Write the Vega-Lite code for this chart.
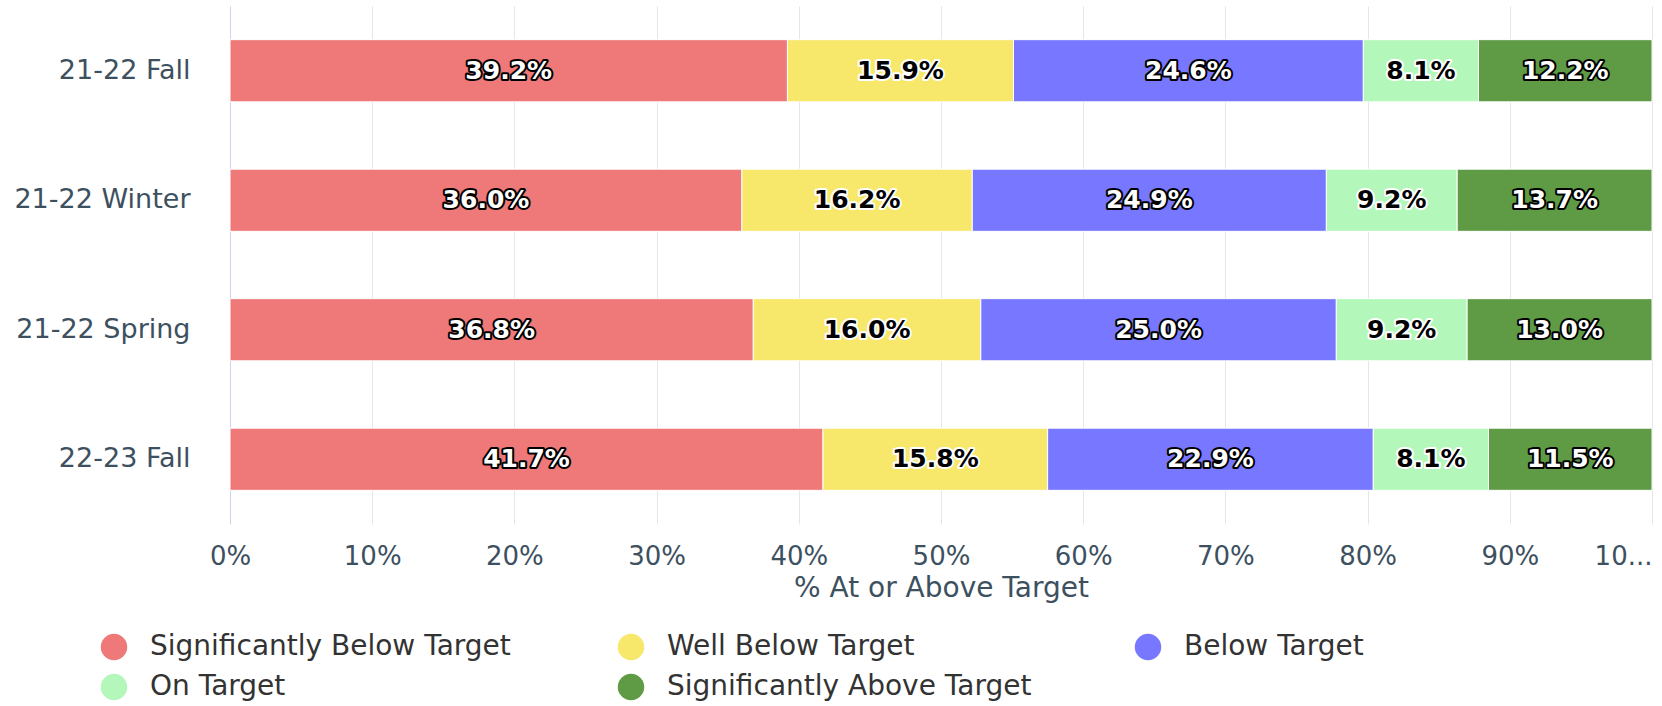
{
  "$schema": "https://vega.github.io/schema/vega-lite/v6.json",
  "width": 1422,
  "height": 518,
  "autosize": {"type": "none"},
  "padding": {"left": 230, "top": 6, "right": 10, "bottom": 182},
  "config": {"view": {"stroke": null}, "font": "DejaVu Sans"},
  "data": {
    "values": [
      {"term": "21-22 Fall", "level": "Significantly Below Target", "rank": 1, "value": 0.392},
      {"term": "21-22 Fall", "level": "Well Below Target", "rank": 2, "value": 0.159},
      {"term": "21-22 Fall", "level": "Below Target", "rank": 3, "value": 0.246},
      {"term": "21-22 Fall", "level": "On Target", "rank": 4, "value": 0.081},
      {"term": "21-22 Fall", "level": "Significantly Above Target", "rank": 5, "value": 0.122},
      {"term": "21-22 Winter", "level": "Significantly Below Target", "rank": 1, "value": 0.360},
      {"term": "21-22 Winter", "level": "Well Below Target", "rank": 2, "value": 0.162},
      {"term": "21-22 Winter", "level": "Below Target", "rank": 3, "value": 0.249},
      {"term": "21-22 Winter", "level": "On Target", "rank": 4, "value": 0.092},
      {"term": "21-22 Winter", "level": "Significantly Above Target", "rank": 5, "value": 0.137},
      {"term": "21-22 Spring", "level": "Significantly Below Target", "rank": 1, "value": 0.368},
      {"term": "21-22 Spring", "level": "Well Below Target", "rank": 2, "value": 0.160},
      {"term": "21-22 Spring", "level": "Below Target", "rank": 3, "value": 0.250},
      {"term": "21-22 Spring", "level": "On Target", "rank": 4, "value": 0.092},
      {"term": "21-22 Spring", "level": "Significantly Above Target", "rank": 5, "value": 0.130},
      {"term": "22-23 Fall", "level": "Significantly Below Target", "rank": 1, "value": 0.417},
      {"term": "22-23 Fall", "level": "Well Below Target", "rank": 2, "value": 0.158},
      {"term": "22-23 Fall", "level": "Below Target", "rank": 3, "value": 0.229},
      {"term": "22-23 Fall", "level": "On Target", "rank": 4, "value": 0.081},
      {"term": "22-23 Fall", "level": "Significantly Above Target", "rank": 5, "value": 0.115}
    ]
  },
  "layer": [
    {
      "mark": {"type": "bar", "stroke": "white", "strokeWidth": 1},
      "encoding": {
        "y": {
          "field": "term", "type": "nominal",
          "sort": ["21-22 Fall", "21-22 Winter", "21-22 Spring", "22-23 Fall"],
          "scale": {"paddingInner": 0.52, "paddingOuter": 0.26},
          "axis": {
            "title": null, "ticks": false, "grid": false,
            "domainColor": "#ccd6eb", "domainWidth": 1,
            "labelPadding": 40, "labelFontSize": 27, "labelLimit": 260,
            "labelColor": "#3d5060", "labelFont": "DejaVu Sans"
          }
        },
        "x": {
          "field": "value", "type": "quantitative", "stack": "zero",
          "scale": {"domain": [0, 1], "nice": false},
          "axis": {
            "title": "% At or Above Target",
            "values": [0, 0.1, 0.2, 0.3, 0.4, 0.5, 0.6, 0.7, 0.8, 0.9, 1],
            "format": ".0%",
            "labelExpr": "datum.value >= 0.999 ? '10...' : datum.label",
            "labelAlign": {"condition": {"test": "datum.value >= 0.999", "value": "right"}, "value": "center"},
            "labelFlush": false, "labelOverlap": false, "labelBound": false,
            "grid": true, "gridColor": "#e6e6e6", "gridWidth": 1,
            "domain": false, "ticks": false,
            "labelPadding": 19, "labelFontSize": 26, "labelColor": "#3d5060", "labelFont": "DejaVu Sans",
            "titleFontSize": 28, "titleFontWeight": "normal", "titleColor": "#3d5060", "titleFont": "DejaVu Sans",
            "titlePadding": 5
          }
        },
        "color": {
          "field": "level", "type": "nominal",
          "scale": {
            "domain": ["Significantly Below Target", "Well Below Target", "Below Target", "On Target", "Significantly Above Target"],
            "range": ["#ef7878", "#f7e76b", "#7777ff", "#b4f7ba", "#5f9a44"]
          },
          "legend": {
            "title": null, "orient": "none", "legendX": -130, "legendY": 627,
            "direction": "horizontal",
            "columns": 3, "gridAlign": "all", "columnPadding": 102, "rowPadding": 12,
            "symbolType": "circle", "symbolSize": 700, "symbolStrokeWidth": 0, "symbolOpacity": 1,
            "labelOffset": 22, "labelFontSize": 28, "labelColor": "#333333", "labelFont": "DejaVu Sans",
            "labelLimit": 500, "padding": 0
          }
        },
        "order": {"field": "rank"}
      }
    },
    {
      "mark": {"type": "text", "font": "DejaVu Sans", "fontWeight": "bold", "fontSize": 25, "strokeWidth": 4, "strokeJoin": "round", "baseline": "middle", "align": "center"},
      "encoding": {
        "y": {"field": "term", "type": "nominal", "sort": ["21-22 Fall", "21-22 Winter", "21-22 Spring", "22-23 Fall"]},
        "x": {"field": "value", "type": "quantitative", "stack": "zero", "bandPosition": 0.5},
        "detail": {"field": "level"},
        "order": {"field": "rank"},
        "text": {"field": "value", "format": ".1%"},
        "stroke": {"condition": {"test": "datum.level === 'Well Below Target' || datum.level === 'On Target'", "value": "#ffffff"}, "value": "#000000"},
        "fill": {"condition": {"test": "datum.level === 'Well Below Target' || datum.level === 'On Target'", "value": "#ffffff"}, "value": "#000000"}
      }
    },
    {
      "mark": {"type": "text", "font": "DejaVu Sans", "fontWeight": "bold", "fontSize": 25, "baseline": "middle", "align": "center"},
      "encoding": {
        "y": {"field": "term", "type": "nominal", "sort": ["21-22 Fall", "21-22 Winter", "21-22 Spring", "22-23 Fall"]},
        "x": {"field": "value", "type": "quantitative", "stack": "zero", "bandPosition": 0.5},
        "detail": {"field": "level"},
        "order": {"field": "rank"},
        "text": {"field": "value", "format": ".1%"},
        "fill": {"condition": {"test": "datum.level === 'Well Below Target' || datum.level === 'On Target'", "value": "#000000"}, "value": "#ffffff"}
      }
    }
  ]
}
